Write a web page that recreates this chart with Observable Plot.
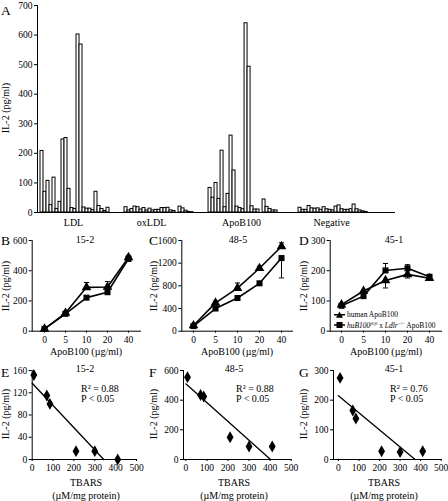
<!DOCTYPE html>
<html><head><meta charset="utf-8">
<script src="https://cdn.jsdelivr.net/npm/d3@7"></script>
<script src="https://cdn.jsdelivr.net/npm/@observablehq/plot@0.6"></script>
<style>
body{margin:0;background:#fff;}
#fig{position:relative;width:448px;height:501px;font-family:"Liberation Serif","Times New Roman",serif;color:#000;overflow:hidden;background:#fff;}
.abs{position:absolute;white-space:nowrap;line-height:1;}
.letter{font-size:13.5px;}
.t{font-size:10px;}
.leg{font-size:7.5px;}
</style></head><body><div id="fig"></div>
<script>
// ---------- Panel A data (IL-2 pg/ml per hybridoma) ----------
const groupNames = ["LDL", "oxLDL", "ApoB100", "Negative"];
const ldl = [208, 70, 107, 25, 118, 12, 36, 247, 252, 80, 15, 12, 602, 568, 17, 13, 13, 8, 70, 22, 12, 5, 16];
const oxldl = [18, 7, 12, 20, 18, 10, 15, 7, 13, 7, 9, 9, 15, 15, 16, 7, 5, 0, 20, 14, 6, 2, 1];
const apob = [83, 50, 100, 46, 209, 18, 63, 260, 142, 20, 15, 11, 640, 493, 21, 10, 10, 0, 44, 19, 12, 7, 7];
const negative = [16, 9, 9, 22, 14, 13, 14, 9, 18, 11, 9, 7, 20, 24, 11, 9, 9, 11, 27, 11, 7, 4, 2];
const aTicks = [0, 100, 200, 300, 400, 500, 600, 700];

// ---------- Panels B-D data ----------
const doseLabels = ["0", "5", "10", "20", "40"];
const seriesNames = ["human ApoB100", "huB100 x Ldlr ApoB100"];
const bHuman = [15, 120, 290, 292, 488];
const bHumanErr = [0, 8, 32, 36, 14];
const bHub = [15, 115, 222, 258, 478];
const bHubErr = [0, 0, 0, 0, 0];
const cHuman = [100, 500, 760, 1110, 1495];
const cHumanErr = [0, 30, 90, 35, 65];
const cHub = [90, 400, 585, 845, 1290];
const cHubErr = [0, 0, 0, 0, -350];
const dHuman = [88, 133, 168, 188, 175];
const dHumanErr = [0, 0, -25, -12, -5];
const dHub = [84, 116, 201, 208, 180];
const dHubErr = [0, 0, 23, 12, 5];
const bTicks = [0, 200, 400, 600];
const cTicks = [0, 400, 800, 1200, 1600];
const dTicks = [0, 100, 200, 300];

// ---------- Panels E-G data ----------
const tbars = [8, 70, 85, 210, 300, 410];
const eIL2 = [152, 115, 100, 15, 15, 0];
const fIL2 = [555, 435, 425, 150, 88, 88];
const gIL2 = [275, 165, 138, 28, 25, 28];
const eFitX = [0, 343], eFitY = [137, 0];
const fFitX = [0, 402], fFitY = [510, 0];
const gFitX = [0, 373], gFitY = [215, 0];
const eTicks = [0, 40, 80, 120, 160];
const fTicks = [0, 200, 400, 600];
const gTicks = [0, 100, 200, 300];
const tbarsTicks = [0, 100, 200, 300, 400, 500];
const stats = [["R\u00B2 = 0.88", "P < 0.05"], ["R\u00B2 = 0.88", "P < 0.05"], ["R\u00B2 = 0.76", "P < 0.05"]];
const clones = ["15-2", "48-5", "45-1"];

// ---------- helpers ----------
const fig = document.getElementById("fig");
const FONT = "'Liberation Serif', 'Times New Roman', serif";
const plain = d => String(d);
function place(node, left, top) {
  const d = document.createElement("div");
  d.style.position = "absolute"; d.style.left = left + "px"; d.style.top = top + "px";
  d.appendChild(node); fig.appendChild(d);
}
function txt(html, x, y, cls, anchor = "middle", rot = false) {
  const d = document.createElement("div");
  d.className = "abs " + cls;
  d.innerHTML = html;
  d.style.left = x + "px"; d.style.top = y + "px";
  const tx = anchor === "start" ? "0" : anchor === "end" ? "-100%" : "-50%";
  d.style.transform = `translate(${tx},-50%)` + (rot ? " rotate(-90deg)" : "");
  if (rot) d.style.transformOrigin = "50% 50%";
  fig.appendChild(d);
  return d;
}
const baseStyle = {fontFamily: FONT, fontSize: "9.5px", background: "transparent", color: "black", overflow: "visible"};
const cap = {draw(ctx, size) { const r = Math.sqrt(size / Math.PI); ctx.moveTo(-r, 0); ctx.lineTo(r, 0); }};

// ---------- Panel A ----------
const groupStart = [1, 29, 57, 87];
const groupVals = [ldl, oxldl, apob, negative];
const barRows = [];
groupVals.forEach((vals, g) => vals.forEach((v, i) => { if (v > 0) barRows.push({slot: groupStart[g] + i, v}); }));
const labelRows = groupNames.map((n, g) => ({name: n, x: groupStart[g] + groupVals[g].length / 2 - 0.5}));
labelRows[1].x -= 2;
const plotA = Plot.plot({
  width: 400, height: 232,
  marginLeft: 37, marginRight: 5, marginTop: 5, marginBottom: 20,
  style: baseStyle,
  x: {domain: [0, 119.3], axis: null},
  y: {domain: [0, 700], ticks: aTicks, tickSize: 3, tickPadding: 2, tickFormat: plain, label: null, line: true},
  marks: [
    Plot.rectY(barRows, {x1: d => d.slot, x2: d => d.slot + 1, y: "v", fill: "white", stroke: "black", strokeWidth: 1}),
    Plot.ruleY([0], {stroke: "black", strokeWidth: 1.2}),
    Plot.text(labelRows, {x: "x", y: () => 0, text: "name", dy: 10, fontSize: 10})
  ]
});
place(plotA, 0, 0);
txt("A", 1, 11, "letter", "start");
txt("IL-2 (pg/ml)", 6, 108, "t", "middle", true);

// ---------- Panels B-D ----------
function dosePanel(human, humanErr, hub, hubErr, yMax, yTicks, ml, mr) {
  const rows = (vals, errs) => vals.map((v, i) => ({x: doseLabels[i], y: v, e: errs[i]}));
  const h = rows(human, humanErr), s = rows(hub, hubErr);
  const errs = [...h, ...s].filter(d => d.e !== 0);
  return Plot.plot({
    width: 150, height: 130, marginLeft: ml, marginRight: mr, marginTop: 10, marginBottom: 29.3,
    style: baseStyle,
    x: {type: "point", domain: doseLabels, padding: 0.5, tickSize: 2, tickPadding: 3, label: null, line: true},
    y: {domain: [0, yMax], ticks: yTicks, tickSize: 3, tickPadding: 2, tickFormat: plain, label: null, line: true},
    marks: [
      Plot.ruleX(errs, {x: "x", y1: "y", y2: d => d.y + d.e, stroke: "black", strokeWidth: 1}),
      Plot.dot(errs, {x: "x", y: d => d.y + d.e, symbol: cap, r: 2.6, stroke: "black", strokeWidth: 1}),
      Plot.line(h, {x: "x", y: "y", stroke: "black", strokeWidth: 1.6}),
      Plot.line(s, {x: "x", y: "y", stroke: "black", strokeWidth: 1.6}),
      Plot.dot(h, {x: "x", y: "y", symbol: "triangle", r: 3.6, fill: "black"}),
      Plot.dot(s, {x: "x", y: "y", symbol: "square", r: 3.4, fill: "black"})
    ]
  });
}
place(dosePanel(bHuman, bHumanErr, bHub, bHubErr, 600, bTicks, 31.7, 10), 0, 230);
place(dosePanel(cHuman, cHumanErr, cHub, cHubErr, 1600, cTicks, 33.3, 6), 148, 230);
place(dosePanel(dHuman, dHumanErr, dHub, dHubErr, 300, dTicks, 31.7, 7), 298, 230);
[[0, 86, 85], [148, 237, 238], [298, 386, 394]].forEach(([l, cx, tx], i) => {
  txt(["B", "C", "D"][i], l + 1, 241, "letter", "start");
  txt(clones[i], tx, 240, "t");
  txt("ApoB100 (\u00B5g/ml)", cx, 352, "t");
  txt("IL-2 (pg/ml)", l + 6, 286, "t", "middle", true);
});
// legend in D
const legSvg = (sym) => `<svg width="11" height="7" style="vertical-align:-1px;margin-right:2px"><line x1="0" y1="3.5" x2="11" y2="3.5" stroke="black" stroke-width="1.3"/>${sym === "t" ? '<path d="M5.5,0.2 L9,6.5 L2,6.5Z" fill="black"/>' : '<rect x="2.5" y="0.5" width="6" height="6" fill="black"/>'}</svg>`;
txt(legSvg("t") + "human ApoB100", 334, 314.5, "leg", "start");
txt(legSvg("s") + "<i>huB100</i><sup style='font-size:5px'><i>fl/fl</i></sup> x <i>Ldlr</i><sup style='font-size:5px'>\u2212/\u2212</sup> ApoB100", 334, 324.5, "leg", "start");

// ---------- Panels E-G ----------
function tbarsPanel(il2, fitX, fitY, yMax, yTicks, xMin, ml, mr) {
  const pts = tbars.map((t, i) => ({x: t, y: il2[i]}));
  const fit = fitX.map((x, i) => ({x, y: fitY[i]}));
  return Plot.plot({
    width: 150, height: 139, marginLeft: ml, marginRight: mr, marginTop: 8, marginBottom: 42,
    style: baseStyle,
    x: {domain: [xMin, 500], ticks: tbarsTicks, tickSize: 2, tickPadding: 3, tickFormat: plain, label: null, line: true},
    y: {domain: [0, yMax], ticks: yTicks, tickSize: 3, tickPadding: 2, tickFormat: plain, label: null, line: true},
    marks: [
      Plot.line(fit, {x: "x", y: "y", stroke: "black", strokeWidth: 1.3}),
      Plot.dot(pts, {x: "x", y: "y", symbol: "diamond", r: 3.6, fill: "black"})
    ]
  });
}
place(tbarsPanel(eIL2, eFitX, eFitY, 160, eTicks, 0, 31.7, 14), 0, 362);
place(tbarsPanel(fIL2, fFitX, fFitY, 600, fTicks, -11, 35, 7.3), 148, 362);
place(tbarsPanel(gIL2, gFitX, gFitY, 300, gTicks, -24, 35, 7.3), 298, 362);
[[0, 86, 85, 81], [148, 234, 234, 236], [298, 384, 394, 390]].forEach(([l, cx, tx, sx], i) => {
  txt(["E", "F", "G"][i], l + 1, 373, "letter", "start");
  txt(clones[i], tx, 369, "t");
  txt(stats[i][0], sx, 389, "t", "start");
  txt(stats[i][1], sx, 399, "t", "start");
  txt("TBARS", cx, 483, "t");
  txt("(\u00B5M/mg protein)", cx, 496, "t");
  txt("IL-2 (pg/ml)", l + 6, 414, "t", "middle", true);
});
</script></body></html>
